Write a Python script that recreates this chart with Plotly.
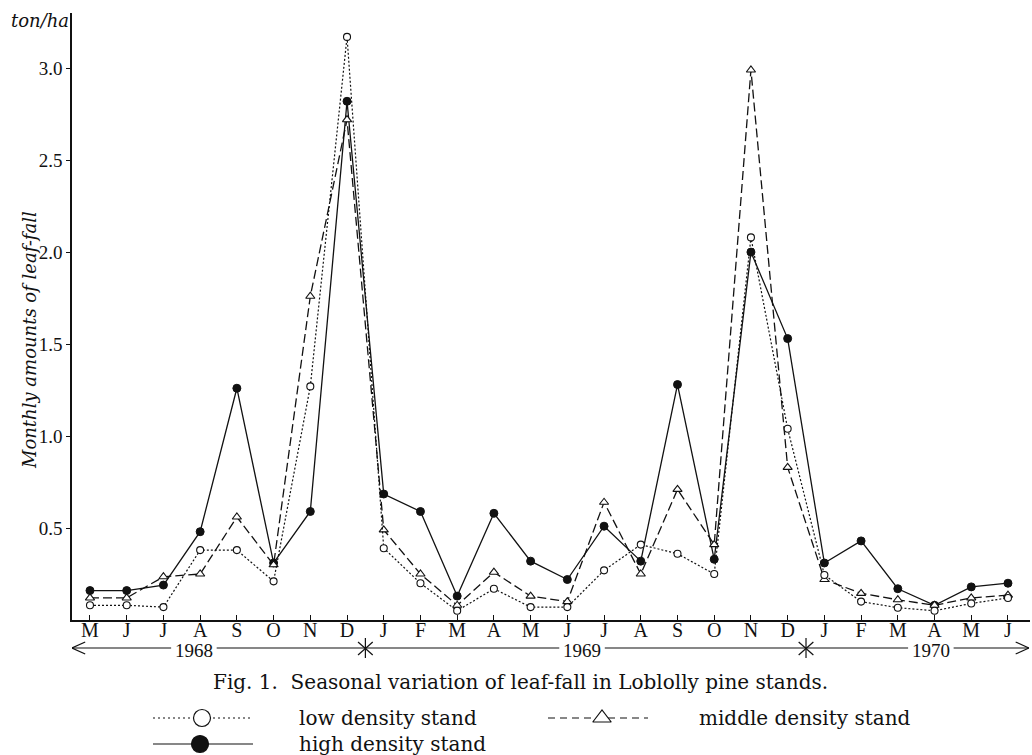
import plotly.graph_objects as go

months = ["M", "J", "J", "A", "S", "O", "N", "D",
          "J", "F", "M", "A", "M", "J", "J", "A", "S", "O", "N", "D",
          "J", "F", "M", "A", "M", "J"]
low_density = [0.08, 0.08, 0.07, 0.38, 0.38, 0.21, 1.27, 3.17,
               0.39, 0.20, 0.05, 0.17, 0.07, 0.07, 0.27, 0.41, 0.36, 0.25, 2.08, 1.04,
               0.245, 0.10, 0.067, 0.05, 0.09, 0.12]
middle_density = [0.12, 0.12, 0.235, 0.25, 0.56, 0.30, 1.76, 2.72,
                  0.49, 0.25, 0.08, 0.26, 0.13, 0.10, 0.64, 0.25, 0.71, 0.41, 2.99, 0.83,
                  0.22, 0.145, 0.11, 0.08, 0.12, 0.135]
high_density = [0.16, 0.16, 0.19, 0.48, 1.26, 0.31, 0.59, 2.82,
                0.685, 0.59, 0.13, 0.58, 0.32, 0.22, 0.51, 0.32, 1.28, 0.33, 2.00, 1.53,
                0.31, 0.43, 0.17, 0.08, 0.18, 0.20]
y_ticks = [0.5, 1.0, 1.5, 2.0, 2.5, 3.0]
y_ticklabels = ["0.5", "1.0", "1.5", "2.0", "2.5", "3.0"]
years = ["1968", "1969", "1970"]
year_label_pos = [2.83, 13.4, 22.9]      # month-index positions of year labels
year_breaks = [7.5, 19.5]                # between D and J
series_names = ["low density stand", "middle density stand", "high density stand"]

x_idx = list(range(len(months)))
SERIF = "Liberation Serif"
CAP = "DejaVu Serif"
BLACK = "#111111"
X_LO, X_HI = -0.49, 25.6

# pixel -> paper helpers (plot area: x 72..1030, paper height 742 from y=13 to 755)
def px(xp):
    return (xp - 72) / 958.0

def py(yp):
    return (755 - yp) / 742.0

fig = go.Figure()

# ---- main data traces ----
fig.add_trace(go.Scatter(
    x=x_idx, y=high_density, mode="lines+markers", name=series_names[2],
    line=dict(color=BLACK, width=1.3),
    marker=dict(symbol="circle", size=8, color=BLACK, line=dict(color=BLACK, width=1)),
    showlegend=False, cliponaxis=False))
fig.add_trace(go.Scatter(
    x=x_idx, y=middle_density, mode="lines+markers", name=series_names[1],
    line=dict(color=BLACK, width=1.3, dash="9px,4px"),
    marker=dict(symbol="triangle-up", size=8, color="white", line=dict(color=BLACK, width=1.1)),
    showlegend=False, cliponaxis=False))
fig.add_trace(go.Scatter(
    x=x_idx, y=low_density, mode="lines+markers", name=series_names[0],
    line=dict(color=BLACK, width=1.2, dash="2px,2px"),
    marker=dict(symbol="circle", size=7, color="white", line=dict(color=BLACK, width=1.1)),
    showlegend=False, cliponaxis=False))

# ---- custom legend drawn in a helper subplot (pixel units) ----
leg_rows = [718, 718, 744]
leg_x0 = [153, 548, 153]
leg_x1 = [253, 648, 253]
leg_mark = [202, 602, 200]
leg_text_x = [297, 697, 297]
leg_dash = ["2px,3px", "7px,5px", "solid"]
leg_sym = ["circle", "triangle-up", "circle"]
leg_fill = ["white", "white", BLACK]
leg_size = [17, 16, 17]
for i in range(3):
    fig.add_trace(go.Scatter(
        x=[leg_x0[i], leg_x1[i]], y=[leg_rows[i], leg_rows[i]], mode="lines",
        line=dict(color=BLACK, width=1.2, dash=leg_dash[i]),
        xaxis="x2", yaxis="y2", showlegend=False, hoverinfo="skip"))
    fig.add_trace(go.Scatter(
        x=[leg_mark[i]], y=[leg_rows[i]], mode="markers",
        marker=dict(symbol=leg_sym[i], size=leg_size[i], color=leg_fill[i],
                    line=dict(color=BLACK, width=1.2)),
        xaxis="x2", yaxis="y2", showlegend=False, hoverinfo="skip"))

annotations = []
for i in range(3):
    annotations.append(dict(
        x=leg_text_x[i], y=leg_rows[i], xref="x2", yref="y2", text=series_names[i],
        showarrow=False, xanchor="left", yanchor="middle",
        font=dict(family=CAP, size=20, color=BLACK)))

# caption
annotations.append(dict(
    x=520, y=682, xref="x2", yref="y2",
    text="Fig. 1.  Seasonal variation of leaf-fall in Loblolly pine stands.",
    showarrow=False, xanchor="center", yanchor="middle",
    font=dict(family=CAP, size=20, color=BLACK)))

# year labels on the year line
YEAR_Y = 650
for yr, pos in zip(years, year_label_pos):
    annotations.append(dict(
        x=pos, y=YEAR_Y, xref="x", yref="y2", text=yr, showarrow=False,
        xanchor="center", yanchor="middle", borderpad=0,
        font=dict(family=SERIF, size=19, color=BLACK)))

# unit label
annotations.append(dict(
    x=px(40), y=py(20), xref="paper", yref="paper", text="ton/ha", showarrow=False,
    xanchor="center", yanchor="middle",
    font=dict(family=CAP, size=18, color=BLACK, style="italic")))

# y-axis title
annotations.append(dict(
    x=px(29), y=py(340), xref="paper", yref="paper", text="Monthly amounts of leaf-fall",
    showarrow=False, textangle=-90, xanchor="center", yanchor="middle",
    font=dict(family=CAP, size=18, color=BLACK, style="italic")))

# ---- year line (broken around the year labels), arrow heads and asterisks ----
shapes = []
line_style = dict(color=BLACK, width=1.2)
LINE_Y = 648
gap = 0.62
left_end, right_end = X_LO, 25.57
seg_pts = [left_end]
for pos in year_label_pos:
    seg_pts += [pos - gap, pos + gap]
seg_pts.append(right_end)
for a, b in zip(seg_pts[0::2], seg_pts[1::2]):
    shapes.append(dict(type="line", xref="x", yref="y2", x0=a, x1=b, y0=LINE_Y, y1=LINE_Y, line=line_style))
ah = 0.36  # arrow head length in month units
shapes.append(dict(type="line", xref="x", yref="y2", x0=left_end, x1=left_end + ah, y0=LINE_Y, y1=LINE_Y - 6, line=line_style))
shapes.append(dict(type="line", xref="x", yref="y2", x0=left_end, x1=left_end + ah, y0=LINE_Y, y1=LINE_Y + 6, line=line_style))
shapes.append(dict(type="line", xref="x", yref="y2", x0=right_end, x1=right_end - ah, y0=LINE_Y, y1=LINE_Y - 6, line=line_style))
shapes.append(dict(type="line", xref="x", yref="y2", x0=right_end, x1=right_end - ah, y0=LINE_Y, y1=LINE_Y + 6, line=line_style))
for b in year_breaks:
    shapes.append(dict(type="line", xref="x", yref="y2", x0=b, x1=b, y0=LINE_Y - 10, y1=LINE_Y + 10, line=line_style))
    shapes.append(dict(type="line", xref="x", yref="y2", x0=b - 0.2, x1=b + 0.2, y0=LINE_Y - 6, y1=LINE_Y + 7, line=line_style))
    shapes.append(dict(type="line", xref="x", yref="y2", x0=b - 0.2, x1=b + 0.2, y0=LINE_Y + 7, y1=LINE_Y - 6, line=line_style))

fig.update_layout(
    width=1032, height=755,
    margin=dict(l=72, r=2, t=13, b=0),
    paper_bgcolor="white", plot_bgcolor="white",
    showlegend=False,
    xaxis=dict(
        domain=[0, 1], range=[X_LO, X_HI],
        tickmode="array", tickvals=x_idx, ticktext=months,
        ticks="inside", ticklen=5, tickwidth=1, tickcolor=BLACK,
        ticklabelstandoff=-9,
        showline=True, linecolor=BLACK, linewidth=1.5,
        showgrid=False, zeroline=False,
        tickfont=dict(family=SERIF, size=20, color=BLACK),
        anchor="y"),
    yaxis=dict(
        domain=[135 / 742, 1], range=[0, 3.30],
        tickmode="array", tickvals=y_ticks, ticktext=y_ticklabels,
        ticks="outside", ticklen=4, tickwidth=1, tickcolor=BLACK,
        showline=True, linecolor=BLACK, linewidth=1.5,
        showgrid=False, zeroline=False,
        tickfont=dict(family=SERIF, size=19, color=BLACK),
        anchor="x"),
    xaxis2=dict(domain=[0, 1], range=[72, 1030], visible=False, anchor="y2"),
    yaxis2=dict(domain=[0, 135 / 742], range=[755, 620], visible=False, anchor="x2"),
    annotations=annotations,
    shapes=shapes,
)

fig.write_html("out.html")
